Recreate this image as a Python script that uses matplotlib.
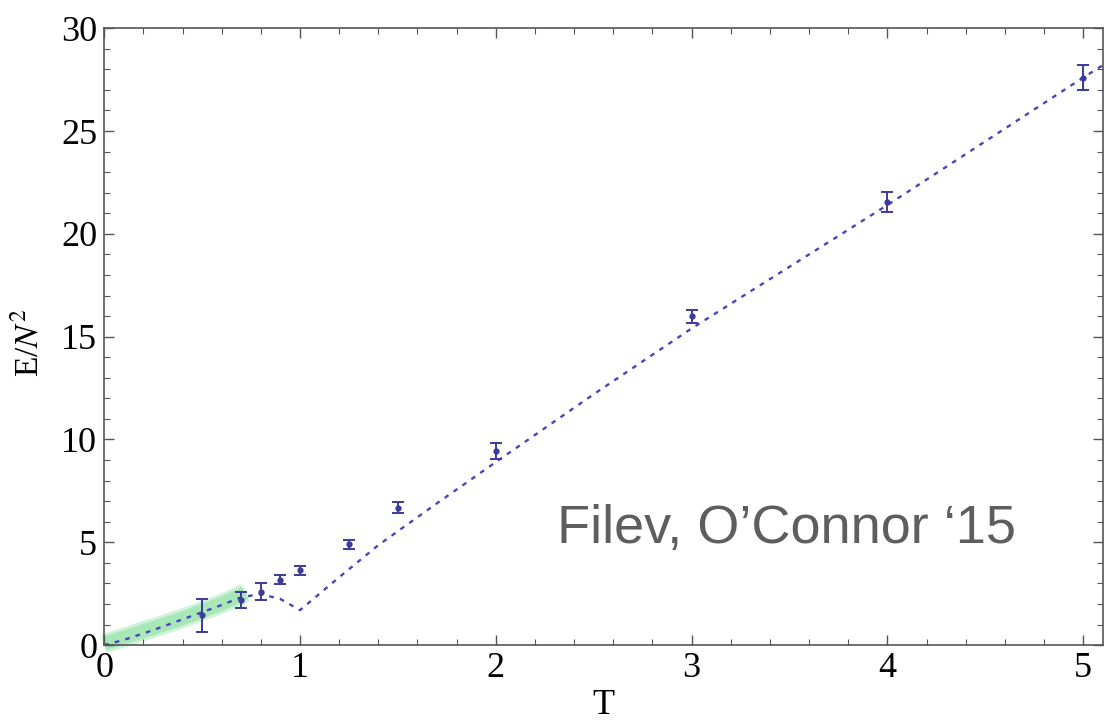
import numpy as np
import matplotlib
matplotlib.use("Agg")
import matplotlib.pyplot as plt
from matplotlib.ticker import MultipleLocator

## Lattice data points (T, E/N^2, error)
T_pts = [0.5, 0.7, 0.8, 0.9, 1.0, 1.25, 1.5, 2.0, 3.0, 4.0, 5.0]
E_pts = [1.45, 2.2, 2.6, 3.18, 3.63, 4.9, 6.67, 9.45, 16.0, 21.55, 27.6]
E_err = [0.8, 0.4, 0.4, 0.22, 0.21, 0.22, 0.27, 0.4, 0.32, 0.5, 0.62]

## Dotted theory curve
T_curve = [0, 0.1, 0.25, 0.4, 0.5, 0.6, 0.7, 0.8, 0.9, 1.0,
           1.2, 1.4, 1.7, 2.0, 2.5, 3.0, 3.5, 4.0, 4.5, 5.0, 5.1]
E_curve = [0, 0.25, 0.73, 1.25, 1.6, 1.95, 2.33, 2.48, 2.24, 1.7,
           3.3, 4.86, 6.9, 8.9, 12.2, 15.4, 18.4, 21.4, 24.5, 27.6, 28.2]

## Green band (low temperature simulation), band centre
T_band = [0, 0.05, 0.1, 0.15, 0.2, 0.25, 0.3, 0.35, 0.4, 0.45,
          0.5, 0.55, 0.6, 0.65, 0.7, 0.72]
E_band = [0.08, 0.22, 0.37, 0.52, 0.68, 0.83, 0.98, 1.14, 1.3, 1.47,
          1.65, 1.83, 2.02, 2.22, 2.45, 2.55]

plt.rcParams['mathtext.fontset'] = 'stix'
serif = 'Liberation Serif'

fig = plt.figure(figsize=(11.05, 7.24), dpi=100)
ax = fig.add_axes([0.0943, 0.109, 0.9037, 0.852])

# green band: soft outer layer + denser core
ax.plot(T_band, E_band, color='#a8eab8', lw=14, alpha=0.55,
        solid_capstyle='butt', zorder=1, clip_on=False)
ax.plot(T_band, E_band, color='#9fe6b0', lw=10, alpha=0.8,
        solid_capstyle='butt', zorder=1, clip_on=False)

# dotted curve
ax.plot(T_curve, E_curve, color='#4a46b8', lw=1.7,
        linestyle=(0, (2.0, 2.6)), zorder=2)

# data with error bars
ax.errorbar(T_pts, E_pts, yerr=E_err, fmt='o', color='#3c3a9a',
            ms=3.5, capsize=4, elinewidth=1.4, capthick=1.4, zorder=3)

ax.set_xlim(0, 5.1)
ax.set_ylim(0, 30)
ax.xaxis.set_major_locator(MultipleLocator(1))
ax.xaxis.set_minor_locator(MultipleLocator(0.2))
ax.yaxis.set_major_locator(MultipleLocator(5))
ax.yaxis.set_minor_locator(MultipleLocator(1))
ax.tick_params(which='both', direction='in', top=True, right=True,
               color='#555555', labelsize=26)
ax.tick_params(which='major', length=7, width=1)
ax.tick_params(which='minor', length=4, width=0.8)
ax.tick_params(axis='x', pad=5)
ax.tick_params(axis='y', pad=5)
for lab in ax.get_xticklabels() + ax.get_yticklabels():
    lab.set_fontfamily(serif)
for sp in ax.spines.values():
    sp.set_color('#555555')
    sp.set_linewidth(1.2)

ax.set_xlabel('T', fontsize=26, fontfamily=serif)
ax.xaxis.set_label_coords(0.5, -0.072)
ax.set_ylabel('E/$N^{2}$', fontsize=24, fontfamily=serif)
ax.yaxis.set_label_coords(-0.059, 0.49)

ax.text(2.31, 4.95, 'Filev, O\u2019Connor \u201815', fontsize=39,
        fontfamily='Liberation Sans', color='#5e5e5e', va='baseline')

fig.savefig('out.png', dpi=100)
